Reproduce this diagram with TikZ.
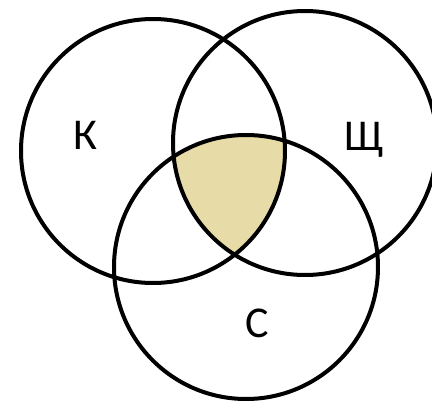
\documentclass[tikz,border=0pt]{standalone}
\usepackage{fontspec}
\setmainfont{Carlito}
\definecolor{beige}{RGB}{231,220,168}
\tikzset{ring/.style={draw=black,line width=4pt},lbl/.style={font=\fontsize{44}{44}\selectfont,inner sep=0pt}}
\begin{document}
\begin{tikzpicture}[x=1pt,y=-1pt]
\useasboundingbox (0,0) rectangle (432,401);
\begin{scope}
\clip (153,151) circle (132);
\clip (305,143) circle (132);
\fill[beige] (246,267) circle (132);
\end{scope}
\draw[ring] (153,151) circle (132);
\draw[ring] (305,143) circle (132);
\draw[ring] (246,267) circle (132);
\node[lbl] (k) at (85,135) {К};
\node[lbl,anchor=base] (sh) at (364,151) {Щ};
\node[lbl] (c) at (257,323) {С};
\end{tikzpicture}
\end{document}
